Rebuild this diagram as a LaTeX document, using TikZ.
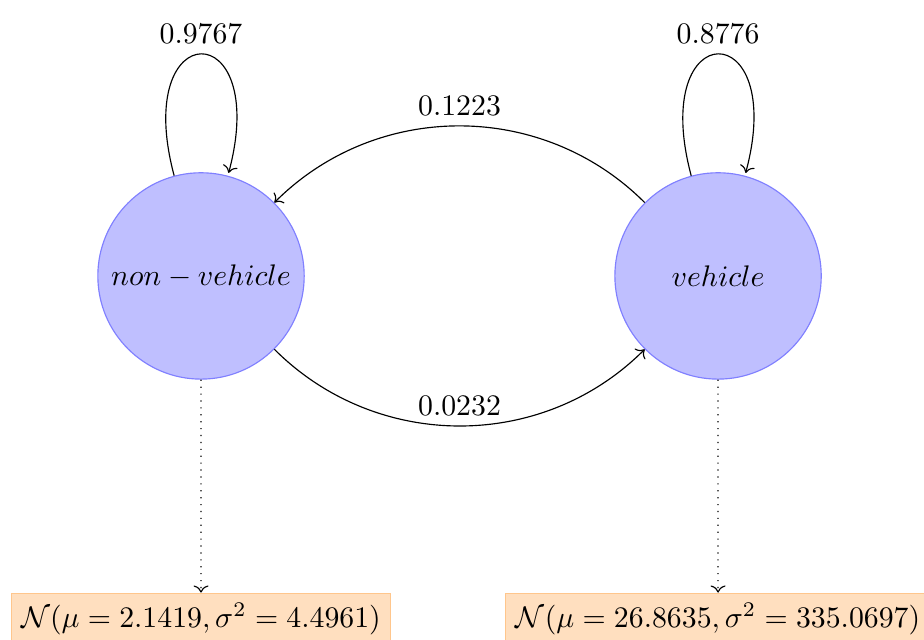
\documentclass[tikz,border=0pt]{standalone}
\usepackage{amsmath,amssymb}
\usepackage{tikz}
\usetikzlibrary{positioning,arrows.meta}

\begin{document}
\begin{tikzpicture}[
  state/.style={circle,draw=blue!50,fill=blue!25,minimum size=2.435cm,inner sep=2pt,scale=1.035},
  gauss/.style={rectangle,draw=orange!45,fill=orange!25,inner sep=3.4pt,scale=1.035},
  prob/.style={above,scale=1.035},
  trans/.style={->}]
\useasboundingbox (-2.455,-4.44) rectangle (8.83,3.37);
% --- hidden states ---
\node[state] (nonveh) {$non-vehicle$};
\node[state,right=3.78cm of nonveh] (veh) {$vehicle$};
% --- transitions ---
\path[trans] (nonveh) edge[loop above] node[prob] {$0.9767$} (nonveh);
\path[trans] (veh) edge[loop above] node[prob] {$0.8776$} (veh);
\path[trans] (veh) edge[bend right=45] node[prob] {$0.1223$} (nonveh);
\path[trans] (nonveh) edge[bend right=45] node[prob] {$0.0232$} (veh);
% --- emission densities ---
\node[gauss,below=2.6cm of nonveh] (gnon) {$\mathcal{N}(\mu=2.1419,\sigma^2=4.4961)$};
\node[gauss,below=2.6cm of veh] (gveh) {$\mathcal{N}(\mu=26.8635,\sigma^2=335.0697)$};
\draw[->,dotted] (nonveh) -- (gnon);
\draw[->,dotted] (veh) -- (gveh);
\end{tikzpicture}
\end{document}
